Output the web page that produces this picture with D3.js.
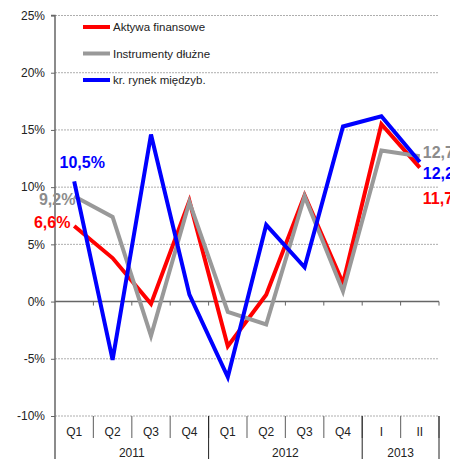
<!DOCTYPE html>
<html>
<head>
<meta charset="utf-8">
<script src="https://cdn.jsdelivr.net/npm/d3@7"></script>
<style>
  body { margin:0; background:#fff; }
  svg { display:block; font-family:"Liberation Sans", Arial, sans-serif; }
</style>
</head>
<body>
<div id="chart"></div>
<script>
// data
const quarters = ["Q1","Q2","Q3","Q4","Q1","Q2","Q3","Q4","I","II"];
const years = [
  { label:"2011", count:4 },
  { label:"2012", count:4 },
  { label:"2013", count:2 }
];
const aktywa      = [6.6, 3.8, -0.2, 8.8, -3.9, 0.6, 9.3, 1.6, 15.5, 11.7];
const instrumenty = [9.2, 7.4, -3.0, 8.7, -0.9, -2.0, 9.2, 0.9, 13.2, 12.7];
const rynek       = [10.5, -5.1, 14.6, 0.6, -6.6, 6.7, 3.0, 15.3, 16.2, 12.2];
const yTicks = [-10, -5, 0, 5, 10, 15, 20, 25];

const series = [
  { name:"Aktywa finansowe",     values:aktywa,      color:"#ff0000", first:"6,6%",  last:"11,7%" },
  { name:"Instrumenty dłużne",   values:instrumenty, color:"#999999", first:"9,2%",  last:"12,7%" },
  { name:"kr. rynek międzyb.",   values:rynek,       color:"#0000ff", first:"10,5%", last:"12,2%" }
];

const W = 450, H = 459;
const m = { left:55, right:11, top:15.5, bottom:43 };
const iw = W - m.left - m.right, ih = H - m.top - m.bottom;

const svg = d3.select("#chart").append("svg")
  .attr("width", W).attr("height", H);

const x = d3.scaleBand()
  .domain(d3.range(quarters.length))
  .range([0, iw]);
const y = d3.scaleLinear()
  .domain([-10, 25])
  .range([ih, 0]);

const g = svg.append("g").attr("transform", `translate(${m.left},${m.top})`);

// gridlines
g.append("g").selectAll("line")
  .data(yTicks.filter(t => t !== 0)).enter().append("line")
    .attr("x1", 0).attr("x2", iw)
    .attr("y1", d => y(d)).attr("y2", d => y(d))
    .attr("stroke", "#999").attr("stroke-dasharray", "2,1").attr("stroke-width", 0.8);

// y axis
const yAxis = g.append("g")
  .call(d3.axisLeft(y).tickValues(yTicks).tickSize(4).tickFormat(d => d + "%"));
yAxis.select(".domain").attr("stroke", "#666").attr("stroke-width", 1.5)
  .attr("d", `M-4,0H0V${ih + 43}`);
yAxis.selectAll(".tick line").attr("stroke", "#666");
yAxis.selectAll("text").attr("font-size", 12).attr("fill", "#222")
  .attr("font-family", "Liberation Sans, Arial, sans-serif").attr("x", -10);

// zero line with small ticks
g.append("line")
  .attr("x1", 0).attr("x2", iw).attr("y1", y(0)).attr("y2", y(0))
  .attr("stroke", "#666").attr("stroke-width", 1.5);
g.append("g").selectAll("line")
  .data(d3.range(1, quarters.length + 1)).enter().append("line")
    .attr("x1", d => d * x.step()).attr("x2", d => d * x.step())
    .attr("y1", y(0)).attr("y2", y(0) + 4)
    .attr("stroke", "#666");

// category axis below plot
const cat = g.append("g").attr("transform", `translate(0,${ih})`);
cat.selectAll("line.q")
  .data(d3.range(1, quarters.length + 1)).enter().append("line")
    .attr("class", "q")
    .attr("x1", d => d * x.step()).attr("x2", d => d * x.step())
    .attr("y1", 0).attr("y2", 22)
    .attr("stroke", "#777").attr("stroke-width", 1.2);
cat.selectAll("text.q")
  .data(quarters).enter().append("text")
    .attr("class", "q")
    .attr("x", (d, i) => x(i) + x.bandwidth() / 2)
    .attr("y", 20)
    .attr("text-anchor", "middle")
    .attr("font-size", 12).attr("fill", "#222")
    .text(d => d);

let acc = 0;
const yearPos = years.map(d => { const s = acc; acc += d.count; return { label:d.label, start:s, end:acc }; });
cat.selectAll("line.y")
  .data(yearPos).enter().append("line")
    .attr("class", "y")
    .attr("x1", d => d.end * x.step()).attr("x2", d => d.end * x.step())
    .attr("y1", 0).attr("y2", 43)
    .attr("stroke", "#222").attr("stroke-width", 1);
cat.selectAll("text.y")
  .data(yearPos).enter().append("text")
    .attr("class", "y")
    .attr("x", d => (d.start + d.end) / 2 * x.step())
    .attr("y", 41)
    .attr("text-anchor", "middle")
    .attr("font-size", 12).attr("fill", "#222")
    .text(d => d.label);

// lines
const line = d3.line()
  .x((d, i) => x(i) + x.bandwidth() / 2)
  .y(d => y(d));

g.append("g").selectAll("path")
  .data(series).enter().append("path")
    .attr("d", d => line(d.values))
    .attr("fill", "none")
    .attr("stroke", d => d.color)
    .attr("stroke-width", 4)
    .attr("stroke-linejoin", "miter");

// value labels
const lastIdx = quarters.length - 1;
const firstPos = [
  { dx:-22, dy:2 },
  { dx:-17, dy:9 },
  { dx:8,   dy:-13 }
];
g.append("g").selectAll("text")
  .data(series).enter().append("text")
    .attr("x", (d, i) => x(0) + x.bandwidth() / 2 + firstPos[i].dx)
    .attr("y", (d, i) => y(d.values[0]) + firstPos[i].dy)
    .attr("text-anchor", "middle")
    .attr("font-size", 16).attr("font-weight", "bold")
    .attr("fill", d => d.color === "#999999" ? "#8c8c8c" : d.color)
    .text(d => d.first);

const lastDy = [36, 2, 17];
g.append("g").selectAll("text")
  .data(series).enter().append("text")
    .attr("x", x(lastIdx) + x.bandwidth() / 2 + 3)
    .attr("y", (d, i) => y(d.values[lastIdx]) + lastDy[i])
    .attr("font-size", 16).attr("font-weight", "bold")
    .attr("fill", d => d.color === "#999999" ? "#8c8c8c" : d.color)
    .text(d => d.last);

// legend
const legend = svg.append("g").attr("transform", "translate(83,27)");
const li = legend.selectAll("g")
  .data(series).enter().append("g")
    .attr("transform", (d, i) => `translate(0,${i * 26.5})`);
li.append("line")
  .attr("x1", 0).attr("x2", 27)
  .attr("stroke", d => d.color).attr("stroke-width", 4);
li.append("text")
  .attr("x", 30).attr("y", 4)
  .attr("font-size", 11.5).attr("fill", "#222")
  .text(d => d.name);
</script>
</body>
</html>
